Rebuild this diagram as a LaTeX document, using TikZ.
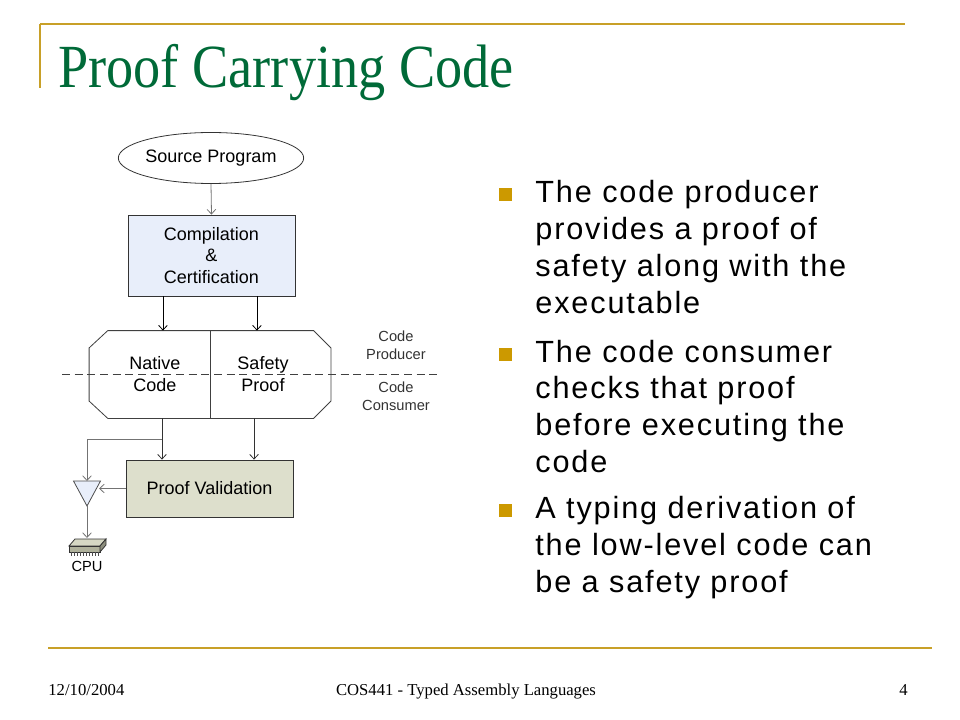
\documentclass[tikz,border=0pt]{standalone}
\usepackage{fontspec}
\setmainfont{Liberation Serif}
\setsansfont{Liberation Sans}
\newfontfamily\titlefont[FakeStretch=0.885]{Liberation Serif}
\newfontfamily\bulletfont[LetterSpace=6]{Liberation Sans}
\usetikzlibrary{arrows.meta,shapes.geometric,positioning}

\definecolor{gold}{RGB}{200,160,40}
\definecolor{bulletgold}{RGB}{204,153,0}
\definecolor{titlegreen}{RGB}{0,106,56}
\definecolor{compblue}{RGB}{232,238,250}
\definecolor{pvgreen}{RGB}{221,223,204}
\definecolor{chiptop}{RGB}{214,216,196}
\definecolor{chipside}{RGB}{176,178,156}

\begin{document}
\begin{tikzpicture}[x=0.75pt,y=-0.75pt,font=\sffamily\fontsize{13.5}{16}\selectfont,
  >={Straight Barb[length=3.5pt,width=6.5pt]},line width=0.6pt,
  arr/.style={->,black},
  garr/.style={->,black!55},
  box/.style={draw=black!80,minimum width=125.25pt,align=center,inner sep=0pt},
  side/.style={font=\sffamily\fontsize{11}{13.5}\selectfont,align=center,text=black!80},
  bullet/.style={anchor=base west,align=left,inner sep=0pt,
    font=\bulletfont\fontsize{23}{27.5}\selectfont}]
\useasboundingbox (0,0) rectangle (960,720);
% header
\draw[gold,line width=1.8pt] (40,24) -- (905,24);
\draw[gold,line width=1.5pt] (40,24) -- (40,88);
\node[anchor=base west,inner sep=0pt,text=titlegreen,font=\titlefont\fontsize{46}{50}\selectfont] (title) at (58,88) {Proof Carrying Code};

% diagram
\node[ellipse,draw=black!80,minimum width=135.75pt,minimum height=38.25pt,inner sep=0pt] (src) at (211,158) {Source Program};
\node[box,fill=compblue,minimum height=60.75pt] (comp) at (211.5,255.5) {Compilation\\\&\\Certification};
\node[minimum width=180.75pt,minimum height=65.25pt,inner sep=0pt] (pkg) at (210,374.5) {};
\draw[black!75] ([xshift=14pt]pkg.north west) -- ([xshift=-13pt]pkg.north east) -- ([yshift=-13pt]pkg.north east)
  -- ([yshift=13pt]pkg.south east) -- ([xshift=-13pt]pkg.south east) -- ([xshift=14pt]pkg.south west)
  -- ([yshift=13pt]pkg.south west) -- ([yshift=-13pt]pkg.north west) -- cycle;
\draw[black!75] (pkg.north) -- (pkg.south);
\draw[black!75,dash pattern=on 6pt off 3.5pt] (62,374) -- (437,374);
\node[align=center,font=\sffamily\fontsize{13.5}{16.5}\selectfont] (nat) at (155,374) {Native\\Code};
\node[align=center,font=\sffamily\fontsize{13.5}{16.5}\selectfont] (safe) at (263,374) {Safety\\Proof};
\node[side] (prod) at (396,345) {Code\\Producer};
\node[side] (cons) at (396,396.5) {Code\\Consumer};
\node[box,fill=pvgreen,minimum height=42.75pt] (pv) at (209.5,488.5) {Proof Validation};

% amplifier and chip
\coordinate (amptop) at (87,481);
\coordinate (amptip) at (87,506);
\coordinate (ampin) at (99,488.5);
\coordinate (split) at (162,439);
\coordinate (chip) at (87,538);
\draw[black!70,fill=compblue] (73.5,481) -- (100.5,481) -- (amptip) -- cycle;
\draw[black!80,fill=chiptop] (69,546) -- (75,539) -- (106,539) -- (100,546) -- cycle;
\draw[black!80,fill=chipside] (69,546) rectangle (100,552);
\draw[black!80,fill=chipside!80!black] (100,546) -- (106,539) -- (106,545) -- (100,552) -- cycle;
\foreach \x in {71,74,...,98} \draw[black!70,line width=0.4pt] (\x,552) -- (\x,556);
\node[font=\sffamily\fontsize{11}{13}\selectfont] (cpu) at (87,566) {CPU};

% connectors
\draw[garr] (src.south) -- (comp.north);
\draw[arr] ([xshift=-36.4pt]comp.south) -- ([xshift=-36.4pt]comp.south |- pkg.north);
\draw[arr] ([xshift=34.1pt]comp.south) -- ([xshift=34.1pt]comp.south |- pkg.north);
\draw[arr,black!80] (pkg.south -| split) -- (pv.north -| split);
\draw[arr,black!80] ([xshift=33.4pt]pv.north |- pkg.south) -- ([xshift=33.4pt]pv.north);
\draw[garr] (split) -| (amptop);
\draw[garr] (pv.west) -- (ampin);
\draw[garr] (amptip) -- (chip);

% bullets
\foreach \y in {194.5,354,510} \fill[bulletgold] (499,{\y-6.5}) rectangle ++(13,13);
\node[bullet] (b1) at (535,313) {The code producer\\provides a proof of\\safety along with the\\executable};
\node[bullet] (b2) at (535,472) {The code consumer\\checks that proof\\before executing the\\code};
\node[bullet] (b3) at (535,592) {A typing derivation of\\the low-level code can\\be a safety proof};

% footer
\draw[gold,line width=1.5pt] (48,648) -- (932,648);
\node[anchor=base west,inner sep=0pt,font=\rmfamily\fontsize{12.5}{14}\selectfont] (date) at (48,695) {12/10/2004};
\node[anchor=base,inner sep=0pt,font=\rmfamily\fontsize{12.5}{14}\selectfont] (course) at (466,695) {COS441 - Typed Assembly Languages};
\node[anchor=base east,inner sep=0pt,font=\rmfamily\fontsize{12.5}{14}\selectfont] (page) at (908,695) {4};
\end{tikzpicture}
\end{document}
